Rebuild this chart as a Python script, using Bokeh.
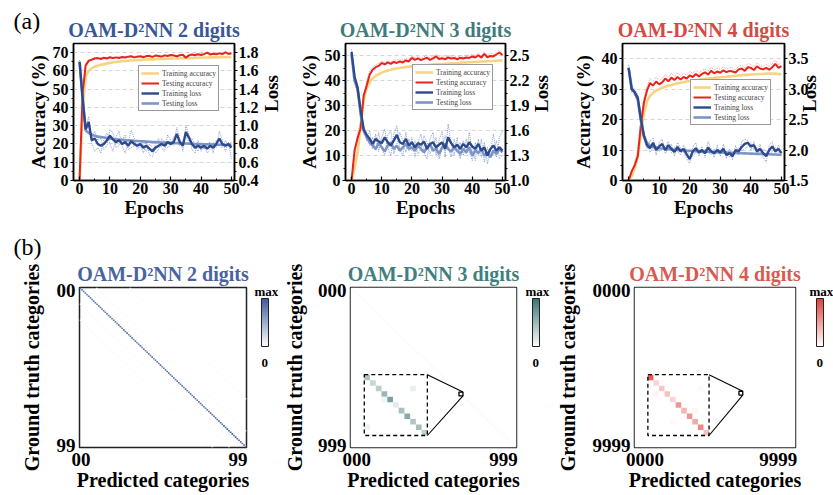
import numpy as np
from bokeh.plotting import figure
from bokeh.layouts import row, column
from bokeh.models import (Range1d, LinearAxis, FixedTicker, PrintfTickFormatter,
                          ColorBar, LinearColorMapper, Legend, LegendItem, ColumnDataSource)
from bokeh.embed import file_html
from bokeh.resources import INLINE

FONT = "Liberation Serif"

# ---------------- data: training curves (epoch 0..50) ----------------
epochs = list(range(51))

train_acc_2 = [0, 38, 57, 60, 61.5, 62.3, 62.8, 63.3, 63.7, 64,
               64.4, 64.7, 64.9, 65.1, 65.3, 65.4, 65.6, 65.7, 65.8, 65.9,
               66, 66.1, 66.2, 66.3, 66.3, 66.4, 66.5, 66.5, 66.6, 66.7,
               66.7, 66.8, 66.8, 66.9, 66.9, 67, 67, 67.1, 67.1, 67.2,
               67.2, 67.3, 67.3, 67.3, 67.4, 67.4, 67.5, 67.5, 67.5, 67.6,
               67.6]
test_acc_2 = [0, 48, 63, 65.5, 66.2, 66.8, 67, 66.5, 67.2, 66.8,
              67.5, 67, 67.4, 67.1, 67.6, 67.3, 67.8, 68, 67.4, 67.8,
              68, 67.5, 68.1, 68.2, 67.7, 68.4, 68.2, 67.8, 68.5, 68.2,
              68.7, 68.4, 68, 68.6, 68.8, 67.2, 68.5, 69, 68.6, 69.1,
              68.7, 69.2, 70, 69, 69.4, 69.1, 69.6, 69.2, 70.1, 69.3,
              69.7]
acc_run_2 = [0, 45, 64, 66.5, 65.5, 67.5, 66.3, 67.2, 66.5, 67.6,
             66.8, 67.8, 66.9, 67.8, 67, 68, 67.4, 68.4, 67, 68.2,
             67.6, 68.3, 67.6, 68.8, 67.2, 68.9, 67.8, 68.5, 68, 68.9,
             68.2, 69, 67.6, 69.1, 68.4, 67.8, 69, 68.6, 69.4, 68.8,
             69.5, 68.8, 70.4, 68.6, 69.9, 68.8, 70.2, 68.9, 70.6, 69,
             70.2]
train_loss_2 = [1.70, 1.30, 0.96, 1.04, 0.84, 0.86, 0.80, 0.78, 0.80, 0.84,
                0.89, 0.85, 0.82, 0.84, 0.80, 0.82, 0.78, 0.83, 0.80, 0.78,
                0.80, 0.76, 0.78, 0.75, 0.72, 0.76, 0.78, 0.80, 0.78, 0.82,
                0.80, 0.82, 0.91, 0.82, 0.78, 0.93, 0.87, 0.80, 0.76, 0.78,
                0.76, 0.78, 0.75, 0.78, 0.76, 0.80, 0.86, 0.80, 0.78, 0.80,
                0.76]
test_loss_2 = [1.70, 1.30, 0.95, 0.92, 0.90, 0.89, 0.88, 0.875, 0.87, 0.865,
               0.86, 0.855, 0.85, 0.848, 0.845, 0.842, 0.84, 0.838, 0.835, 0.833,
               0.83, 0.828, 0.826, 0.824, 0.822, 0.82, 0.818, 0.816, 0.815, 0.814,
               0.812, 0.81, 0.808, 0.807, 0.806, 0.805, 0.804, 0.802, 0.80, 0.799,
               0.798, 0.797, 0.796, 0.795, 0.794, 0.793, 0.792, 0.791, 0.79, 0.789,
               0.788]
loss_run_2a = [1.72, 1.25, 0.98, 1.10, 0.80, 0.72, 0.76, 0.70, 0.85, 0.92,
               0.80, 0.72, 0.88, 0.94, 0.78, 0.70, 0.82, 0.95, 0.86, 0.74,
               0.78, 0.70, 0.82, 0.68, 0.66, 0.80, 0.86, 0.76, 0.72, 0.90,
               0.84, 0.78, 0.98, 0.86, 0.72, 1.00, 0.90, 0.74, 0.70, 0.84,
               0.72, 0.80, 0.70, 0.74, 0.82, 0.76, 0.94, 0.84, 0.72, 0.82,
               0.64]
loss_run_2b = [1.68, 1.35, 0.94, 1.00, 0.88, 0.94, 0.84, 0.86, 0.74, 0.78,
               0.96, 0.92, 0.76, 0.78, 0.84, 0.90, 0.74, 0.76, 0.78, 0.84,
               0.82, 0.80, 0.72, 0.80, 0.76, 0.70, 0.74, 0.86, 0.82, 0.76,
               0.78, 0.88, 0.84, 0.78, 0.84, 0.88, 0.82, 0.86, 0.80, 0.72,
               0.80, 0.74, 0.80, 0.82, 0.70, 0.84, 0.78, 0.76, 0.84, 0.78,
               0.82]

train_acc_3 = [0, 5, 11, 22, 32, 37, 39.5, 41, 42, 42.7,
               43.3, 43.8, 44.2, 44.5, 44.8, 45, 45.2, 45.4, 45.6, 45.7,
               45.9, 46, 46.1, 46.2, 46.3, 46.4, 46.5, 46.6, 46.7, 46.8,
               46.8, 46.9, 47, 47.1, 47.1, 47.2, 47.3, 47.4, 47.4, 47.5,
               47.6, 47.6, 47.7, 47.8, 47.8, 47.9, 48, 48, 48.1, 48.2,
               48.2]
test_acc_3 = [0, 12, 17, 21, 34, 38, 42.5, 44.5, 45.5, 46,
              47.2, 46.6, 47.4, 46.8, 47.6, 47.2, 47.8, 47.4, 48.2, 47.8,
              49.2, 48.4, 49, 48.3, 48.8, 49.3, 48.4, 49, 49.8, 48.8,
              49.1, 48.6, 49.4, 49, 49.2, 48.6, 49.3, 49, 49.4, 49.2,
              49.8, 49.4, 50.3, 49.3, 50.8, 49.4, 50, 49.8, 50.6, 51.4,
              50.4]
acc_run_3 = [0, 10, 19, 24, 32, 40, 44, 45.5, 46.5, 47,
             48, 47.5, 48.2, 47.6, 48.5, 48.2, 48.8, 48.4, 49, 48.6,
             50, 49.3, 50, 49.1, 49.7, 50.2, 49.2, 50, 50.6, 49.6,
             50.1, 49.4, 50.3, 49.8, 50.2, 49.4, 50.2, 49.8, 50.4, 50,
             50.7, 50.2, 51.2, 50.1, 51.6, 50.4, 51, 50.6, 51.5, 52.3,
             51.4]
train_loss_3 = [2.55, 2.25, 2.12, 1.85, 1.62, 1.55, 1.50, 1.44, 1.50, 1.47,
                1.45, 1.52, 1.46, 1.42, 1.48, 1.55, 1.46, 1.44, 1.50, 1.42,
                1.46, 1.40, 1.45, 1.43, 1.47, 1.38, 1.44, 1.46, 1.40, 1.43,
                1.46, 1.38, 1.52, 1.45, 1.40, 1.43, 1.38, 1.44, 1.40, 1.46,
                1.41, 1.38, 1.44, 1.36, 1.40, 1.30, 1.38, 1.42, 1.36, 1.40,
                1.36]
test_loss_3 = [2.52, 2.20, 2.10, 1.80, 1.60, 1.52, 1.46, 1.42, 1.38, 1.45,
               1.40, 1.35, 1.42, 1.46, 1.38, 1.42, 1.36, 1.40, 1.44, 1.38,
               1.40, 1.36, 1.42, 1.38, 1.34, 1.40, 1.44, 1.36, 1.38, 1.32,
               1.40, 1.44, 1.38, 1.35, 1.40, 1.36, 1.32, 1.38, 1.34, 1.40,
               1.30, 1.36, 1.33, 1.38, 1.30, 1.34, 1.28, 1.36, 1.32, 1.38,
               1.34]
loss_run_3a = [2.58, 2.18, 2.05, 1.78, 1.62, 1.48, 1.60, 1.38, 1.56, 1.35,
               1.52, 1.62, 1.40, 1.30, 1.56, 1.66, 1.38, 1.30, 1.58, 1.36,
               1.52, 1.28, 1.46, 1.56, 1.34, 1.26, 1.50, 1.58, 1.30, 1.48,
               1.60, 1.28, 1.68, 1.44, 1.30, 1.52, 1.26, 1.48, 1.32, 1.58,
               1.36, 1.24, 1.50, 1.28, 1.46, 1.20, 1.36, 1.56, 1.28, 1.52,
               1.60]
loss_run_3b = [2.50, 2.24, 2.15, 1.86, 1.58, 1.56, 1.42, 1.52, 1.36, 1.58,
               1.38, 1.30, 1.54, 1.60, 1.32, 1.44, 1.58, 1.48, 1.34, 1.50,
               1.36, 1.48, 1.32, 1.38, 1.54, 1.46, 1.32, 1.40, 1.52, 1.26,
               1.38, 1.54, 1.40, 1.28, 1.50, 1.34, 1.46, 1.30, 1.50, 1.34,
               1.24, 1.46, 1.30, 1.50, 1.22, 1.40, 1.28, 1.32, 1.48, 1.26,
               1.30]

train_acc_4 = [0, 1.5, 4, 8, 15, 22, 26, 27.8, 28.8, 29.5,
               30, 30.4, 30.8, 31.1, 31.4, 31.7, 31.9, 32.1, 32.3, 32.5,
               32.7, 32.8, 33, 33.1, 33.3, 33.4, 33.5, 33.6, 33.7, 33.8,
               33.9, 34, 34.1, 34.2, 34.3, 34.4, 34.5, 34.6, 34.7, 34.7,
               34.8, 34.9, 34.9, 35, 35, 35.1, 35.1, 35.1, 35.1, 35,
               34.9]
test_acc_4 = [0, 3, 5, 8, 18, 25.5, 29.5, 32, 31.2, 32.5,
              31.6, 32.2, 33.5, 32.6, 33.8, 33, 34, 33.2, 34, 33.5,
              34.5, 34, 35, 34.2, 35, 35.5, 34.8, 36, 35.2, 35.8,
              35.4, 36.2, 35.6, 36, 35.8, 35.5, 36.5, 36.8, 36, 37.2,
              37, 36.3, 37.5, 36.8, 36.5, 37, 36.4, 37.2, 38.3, 37,
              37.6]
acc_run_4 = [0, 2, 6, 10, 20, 27, 31, 33.5, 32.5, 34,
             32.8, 33.4, 35, 33.8, 35.2, 34.2, 35.4, 34.4, 35.2, 34.6,
             35.8, 35.2, 36.2, 35.3, 36.3, 36.6, 35.9, 37.2, 36.3, 36.9,
             36.5, 37.4, 36.6, 37.2, 36.9, 36.4, 37.6, 38, 37, 38.4,
             38.1, 37.3, 38.6, 37.8, 37.5, 38.1, 37.4, 38.3, 39.6, 38,
             38.6]
train_loss_4 = [3.35, 3.00, 2.95, 2.86, 2.52, 2.24, 2.08, 2.03, 2.12, 2.00,
                2.06, 2.10, 2.00, 2.08, 2.02, 1.97, 2.05, 1.98, 2.02, 1.93,
                1.85, 1.98, 2.03, 1.96, 2.00, 1.95, 2.04, 1.98, 1.95, 2.00,
                1.96, 2.02, 1.92, 1.95, 1.90, 2.00, 1.98, 2.05, 2.10, 2.12,
                2.06, 2.08, 1.98, 2.02, 1.95, 1.90, 2.00, 2.06, 1.98, 2.02,
                1.95]
test_loss_4 = [3.35, 3.02, 2.94, 2.82, 2.48, 2.22, 2.12, 2.07, 2.05, 2.04,
               2.03, 2.025, 2.02, 2.015, 2.01, 2.005, 2.0, 1.998, 1.995, 1.99,
               1.988, 1.985, 1.982, 1.98, 1.978, 1.975, 1.972, 1.97, 1.968, 1.965,
               1.962, 1.96, 1.958, 1.956, 1.954, 1.952, 1.95, 1.948, 1.946, 1.944,
               1.942, 1.94, 1.938, 1.936, 1.934, 1.932, 1.93, 1.928, 1.926, 1.924,
               1.922]
loss_run_4a = [3.40, 2.95, 2.90, 2.80, 2.45, 2.18, 2.02, 2.15, 2.20, 1.92,
               2.12, 2.18, 1.94, 2.02, 2.10, 1.90, 2.12, 2.04, 1.96, 1.86,
               1.78, 2.05, 2.12, 1.90, 2.06, 1.88, 2.14, 2.02, 1.88, 2.08,
               1.90, 2.10, 1.86, 2.02, 1.84, 2.08, 1.92, 2.14, 2.18, 2.16,
               2.00, 2.14, 1.92, 2.10, 1.88, 1.80, 2.08, 2.14, 1.92, 2.08,
               1.90]
loss_run_4b = [3.30, 3.06, 3.00, 2.90, 2.58, 2.30, 2.12, 1.96, 2.04, 2.08,
               1.98, 2.02, 2.06, 2.14, 1.96, 2.04, 1.98, 1.92, 2.08, 2.00,
               1.92, 1.90, 1.96, 2.02, 1.94, 2.02, 1.96, 1.92, 2.02, 1.94,
               2.02, 1.94, 1.98, 1.88, 1.96, 1.94, 2.04, 1.98, 2.02, 2.06,
               2.12, 2.00, 2.04, 1.94, 2.02, 1.98, 1.92, 1.98, 2.04, 1.96,
               2.00]

# ---------------- data: confusion matrices (relative to max) ----------------
diag_2 = [0.86, 0.80, 0.84, 0.76, 0.82, 0.88, 0.78, 0.84, 0.80, 0.85,
          0.79, 0.83, 0.87, 0.77, 0.81, 0.84, 0.80, 0.86, 0.78, 0.82,
          0.84, 0.78, 0.80, 0.88, 0.83, 0.79, 0.85, 0.81, 0.87, 0.80,
          0.82, 0.86, 0.78, 0.84, 0.80, 0.83, 0.88, 0.77, 0.85, 0.81,
          0.80, 0.84, 0.82, 0.87, 0.79, 0.85, 0.80, 0.83, 0.86, 0.78,
          0.84, 0.81, 0.88, 0.80, 0.83, 0.86, 0.79, 0.84, 0.82, 0.89,
          0.80, 0.85, 0.83, 0.87, 0.80, 0.84, 0.86, 0.81, 0.88, 0.82,
          0.85, 0.83, 0.89, 0.80, 0.87, 0.84, 0.82, 0.90, 0.86, 0.84,
          0.90, 0.87, 0.92, 0.88, 0.94, 0.91, 0.97, 0.92, 1.00, 0.95,
          0.97, 1.00, 0.95, 0.98, 0.93, 0.96, 0.90, 0.86, 0.82, 0.80]
stripe_offsets_2 = [-20, -10, 10, 30]      # faint confusion stripes
stripe_level_2 = 0.03

inset_start_3 = 660                         # zoomed classes 660..670
inset_diag_3 = [0.42, 0.30, 0.36, 0.52, 0.68, 0.15, 0.45, 0.62, 0.40, 0.46, 0.35]
inset_off_3 = [(2, 8, 0.12), (4, 3, 0.08), (9, 0, 0.10)]

inset_start_4 = 6600                        # zoomed classes 6600..6610
inset_diag_4 = [0.85, 0.22, 0.30, 0.32, 0.22, 0.55, 0.38, 0.55, 0.45, 0.62, 0.32]
inset_off_4 = [(3, 1, 0.06), (6, 8, 0.05), (2, 9, 0.04), (8, 4, 0.04)]

# ---------------- style ----------------
YELLOW = "#fad381"
RED = "#e8231e"
DARK = "#2d4a8d"
LIGHT = "#7d95c6"
DOT_B = "#5a78bd"
DOT_R = "#f07a72"

TOP_H = 226
BOT_H = 269


def ramp(hex_color, n=256):
    r, g, b = (int(hex_color[i:i + 2], 16) for i in (1, 3, 5))
    out = []
    for t in np.linspace(0, 1, n):
        out.append("#%02x%02x%02x" % (round(255 + (r - 255) * t),
                                      round(255 + (g - 255) * t),
                                      round(255 + (b - 255) * t)))
    return out


def mids(ticks):
    return [(a + b) / 2 for a, b in zip(ticks[:-1], ticks[1:])]


def style_axis(ax, tick_size="16px", lab_size="19px"):
    ax.axis_label_text_font = FONT
    ax.axis_label_text_font_style = "bold"
    ax.axis_label_text_font_size = lab_size
    ax.axis_label_text_color = "black"
    ax.major_label_text_font = FONT
    ax.major_label_text_font_style = "bold"
    ax.major_label_text_font_size = tick_size
    ax.major_label_text_color = "black"
    ax.axis_line_color = "black"
    ax.axis_line_width = 1.5
    ax.major_tick_line_color = "black"
    ax.major_tick_line_width = 1.2
    ax.minor_tick_line_color = "black"
    ax.minor_tick_line_width = 1
    ax.major_label_standoff = 2


def text_note(p, text, x, y, size, bold=True):
    """A free-standing text placed in screen pixels relative to the frame
    (drawn as the title of an invisible colour bar so it is not clipped)."""
    cb = ColorBar(color_mapper=LinearColorMapper(palette=["#ffffff"], low=0, high=1),
                  orientation="horizontal",
                  location=(x, y), width=1, height=1, padding=0, margin=0, title=text,
                  title_standoff=0, title_text_font=FONT, title_text_font_size=size,
                  title_text_font_style="bold" if bold else "normal", title_text_color="black",
                  scale_alpha=0, bar_line_color=None, border_line_color=None,
                  background_fill_alpha=0, ticker=FixedTicker(ticks=[]),
                  major_label_text_font_size="0px", major_tick_line_color=None,
                  minor_tick_line_color=None)
    p.add_layout(cb)


top_cfg = [
    dict(w=295, bl=73, br=58, title="OAM-D²NN 2 digits", tcolor="#3a5795",
         acc=(0, 75), loss=(0.4, 1.9),
         acc_ticks=[0, 10, 20, 30, 40, 50, 60, 70],
         loss_ticks=[0.4, 0.6, 0.8, 1.0, 1.2, 1.4, 1.6, 1.8],
         data=(train_acc_2, test_acc_2, acc_run_2, train_loss_2, test_loss_2, loss_run_2a, loss_run_2b),
         leg=(65, 69), acc_s=1, loss_s=10),
    dict(w=270, bl=48, br=55, title="OAM-D²NN 3 digits", tcolor="#3e7b7a",
         acc=(0, 55), loss=(1.0, 2.65),
         acc_ticks=[0, 10, 20, 30, 40, 50],
         loss_ticks=[1.0, 1.3, 1.6, 1.9, 2.2, 2.5],
         data=(train_acc_3, test_acc_3, acc_run_3, train_loss_3, test_loss_3, loss_run_3a, loss_run_3b),
         leg=(67, 70), acc_s=2, loss_s=9),
    dict(w=268, bl=57, br=43, title="OAM-D²NN 4 digits", tcolor="#d24b43",
         acc=(0, 45), loss=(1.5, 3.75),
         acc_ticks=[0, 10, 20, 30, 40],
         loss_ticks=[1.5, 2.0, 2.5, 3.0, 3.5],
         data=(train_acc_4, test_acc_4, acc_run_4, train_loss_4, test_loss_4, loss_run_4a, loss_run_4b),
         leg=(68, 55), acc_s=5, loss_s=-2),
]


def make_top(cfg, first=False):
    tr_acc, te_acc, acc_run, tr_loss, te_loss, run_a, run_b = cfg["data"]
    p = figure(width=cfg["w"], height=TOP_H, output_backend="svg", toolbar_location=None,
               x_range=Range1d(-2, 51), y_range=Range1d(*cfg["acc"]),
               min_border=0, min_border_left=cfg["bl"], min_border_right=cfg["br"],
               min_border_top=43, min_border_bottom=TOP_H - 180,
               background_fill_color="white", border_fill_color="white")
    p.outline_line_color = "black"
    p.outline_line_width = 1.5
    p.extra_y_ranges = {"loss": Range1d(*cfg["loss"])}

    p.title.text = cfg["title"]
    p.title.text_font = FONT
    p.title.text_font_style = "bold"
    p.title.text_font_size = "20px"
    p.title.text_color = cfg["tcolor"]
    p.title.align = "center"
    p.title.standoff = 6

    xt = [0, 10, 20, 30, 40, 50]
    p.xaxis.ticker = FixedTicker(ticks=xt, minor_ticks=mids(xt))
    p.xaxis.axis_label = "Epochs"
    style_axis(p.xaxis[0])
    p.xaxis.major_tick_in = 4
    p.xaxis.major_tick_out = 0
    p.xaxis.minor_tick_in = 2
    p.xaxis.minor_tick_out = 0
    p.xaxis.axis_label_standoff = 0

    la = p.left[0]
    la.ticker = FixedTicker(ticks=cfg["acc_ticks"], minor_ticks=mids(cfg["acc_ticks"]))
    la.axis_label = "Accuracy (%)"
    style_axis(la)
    la.major_tick_out = 3
    la.major_tick_in = 0
    la.minor_tick_out = 2
    la.minor_tick_in = 0
    la.axis_label_standoff = cfg["acc_s"]

    p.xgrid.visible = False
    p.ygrid.grid_line_color = "#cccccc"
    p.ygrid.grid_line_dash = "4 3"
    p.ygrid.grid_line_width = 0.8

    ra = LinearAxis(y_range_name="loss", axis_label="Loss",
                    ticker=FixedTicker(ticks=cfg["loss_ticks"], minor_ticks=mids(cfg["loss_ticks"])),
                    formatter=PrintfTickFormatter(format="%.1f"))
    style_axis(ra)
    ra.major_tick_out = 3
    ra.major_tick_in = 0
    ra.minor_tick_out = 2
    ra.minor_tick_in = 0
    ra.major_label_standoff = 1
    ra.axis_label_standoff = cfg["loss_s"]
    if "axis_label_orientation" in ra.properties():
        ra.axis_label_orientation = float(np.pi / 2)
    p.add_layout(ra, "right")

    p.line(epochs, run_a, y_range_name="loss", line_color=DOT_B, line_width=0.7, line_dash="1 1")
    p.line(epochs, run_b, y_range_name="loss", line_color=DOT_B, line_width=0.7, line_dash="1 1")
    p.line(epochs, acc_run, line_color=DOT_R, line_width=0.7, line_dash="1 1")
    r1 = p.line(epochs, tr_acc, line_color=YELLOW, line_width=2.6)
    r2 = p.line(epochs, te_acc, line_color=RED, line_width=2)
    r4 = p.line(epochs, te_loss, y_range_name="loss", line_color=LIGHT, line_width=2.6)
    r3 = p.line(epochs, tr_loss, y_range_name="loss", line_color=DARK, line_width=2.4)

    legend = Legend(items=[LegendItem(label="Training accuracy", renderers=[r1]),
                           LegendItem(label="Testing accuracy", renderers=[r2]),
                           LegendItem(label="Training loss", renderers=[r3]),
                           LegendItem(label="Testing loss", renderers=[r4])],
                    location=cfg["leg"], label_text_font=FONT, label_text_font_size="7.5px",
                    glyph_width=18, glyph_height=10, label_height=10, label_standoff=3,
                    spacing=0, padding=2, margin=0, border_line_color="#333333",
                    border_line_width=0.8, background_fill_color="white", background_fill_alpha=1)
    p.add_layout(legend)

    if first:
        text_note(p, "(a)", -60, 146, "24px", bold=False)
    return p


INSET_X0, INSET_Y0, INSET_SIZE = 0.083, 0.545, 0.38
MARK_HALF = 0.012

mat_2 = np.zeros((100, 100))
for k in range(100):
    mat_2[k, k] = diag_2[k]
for off in stripe_offsets_2:
    for k in range(100):
        if 0 <= k + off < 100:
            mat_2[k, k + off] = stripe_level_2


def binned_diag(n_classes, level, bins=100):
    per = n_classes // bins
    return np.eye(bins) * level / per


bot_cfg = [
    dict(w=280, bl=79, br=34, N=100, digits=2, title="OAM-D²NN 2 digits", tcolor="#4863a0",
         hcolor="#3d5c9c", ylab_s=11, cells=mat_2),
    dict(w=273, bl=67, br=37, N=1000, digits=3, title="OAM-D²NN 3 digits", tcolor="#3f7f7e",
         hcolor="#3b7474", ylab_s=9, mat=binned_diag(1000, float(np.mean(inset_diag_3))),
         start=inset_start_3, idiag=inset_diag_3, ioff=inset_off_3),
    dict(w=280, bl=75, br=38, N=10000, digits=4, title="OAM-D²NN 4 digits", tcolor="#d85a50",
         hcolor="#e0403a", ylab_s=11, mat=binned_diag(10000, float(np.mean(inset_diag_4))),
         start=inset_start_4, idiag=inset_diag_4, ioff=inset_off_4),
]


def make_heat(cfg, first=False):
    N = cfg["N"]
    pal = ramp(cfg["hcolor"])
    mapper = LinearColorMapper(palette=pal, low=0, high=1)
    p = figure(width=cfg["w"], height=BOT_H, output_backend="svg", toolbar_location=None,
               x_range=Range1d(0, N), y_range=Range1d(N, 0),
               min_border=0, min_border_left=cfg["bl"], min_border_right=cfg["br"],
               min_border_top=61, min_border_bottom=48,
               background_fill_color="white", border_fill_color="white")
    p.grid.visible = False
    p.outline_line_color = "#222222"
    p.outline_line_width = 1.5

    p.title.text = cfg["title"]
    p.title.text_font = FONT
    p.title.text_font_style = "bold"
    p.title.text_font_size = "20px"
    p.title.text_color = cfg["tcolor"]
    p.title.align = "center"
    p.title.standoff = 5

    zero, nine = "0" * cfg["digits"], "9" * cfg["digits"]
    frame_w = cfg["w"] - cfg["bl"] - cfg["br"]
    half_w = cfg["digits"] * 0.5 * 19 / 2          # half width of a tick label, px
    xl = round(max((half_w - 8) / frame_w, 0.008) * N, 2)
    xr = round(N - (half_w - 1) / frame_w * N, 2)
    yt = round(0.02 * N, 2)
    yb = round(0.988 * N, 2)

    xa = p.xaxis[0]
    xa.ticker = FixedTicker(ticks=[xl, xr])
    xa.major_label_overrides = {xl: zero, xr: nine}
    xa.axis_label = "Predicted categories"
    ya = p.yaxis[0]
    ya.ticker = FixedTicker(ticks=[yt, yb])
    ya.major_label_overrides = {yt: zero, yb: nine}
    ya.axis_label = "Ground truth categories"
    for ax, ls, ts in ((xa, 0, 5), (ya, cfg["ylab_s"], 4)):
        style_axis(ax, tick_size="19px", lab_size="20px")
        ax.axis_line_color = None
        ax.major_tick_line_color = None
        ax.minor_tick_line_color = None
        ax.major_tick_out = 0
        ax.major_tick_in = 0
        ax.major_label_standoff = ts
        ax.axis_label_standoff = ls

    if "cells" in cfg:
        m = cfg["cells"]
        ii, jj = np.nonzero(m)
        src = ColumnDataSource(dict(left=jj.astype(float), right=jj + 1.0,
                                    top=ii.astype(float), bottom=ii + 1.0, v=m[ii, jj]))
        p.quad(source=src, left="left", right="right", top="top", bottom="bottom",
               fill_color={"field": "v", "transform": mapper}, line_color=None)
    else:
        p.image(image=[cfg["mat"]], x=0, y=0, dw=N, dh=N, color_mapper=mapper)

    if "idiag" in cfg:
        n = len(cfg["idiag"])
        x0, y0, s = INSET_X0 * N, INSET_Y0 * N, INSET_SIZE * N
        c = s / n
        rr = list(range(n)) + [e[0] for e in cfg["ioff"]]
        cc = list(range(n)) + [e[1] for e in cfg["ioff"]]
        vv = list(cfg["idiag"]) + [e[2] for e in cfg["ioff"]]
        src = ColumnDataSource(dict(left=[x0 + j * c for j in cc], right=[x0 + (j + 1) * c for j in cc],
                                    top=[y0 + i * c for i in rr], bottom=[y0 + (i + 1) * c for i in rr],
                                    v=vv))
        p.quad(left=x0, right=x0 + s, top=y0, bottom=y0 + s, fill_color="white", line_color=None)
        p.quad(source=src, left="left", right="right", top="top", bottom="bottom",
               fill_color={"field": "v", "transform": mapper}, line_color=None)
        p.quad(left=x0, right=x0 + s, top=y0, bottom=y0 + s, fill_color=None,
               line_color="black", line_dash="4 3", line_width=1.3)
        mc = cfg["start"] + n / 2
        h = MARK_HALF * N
        p.quad(left=mc - h, right=mc + h, top=mc - h, bottom=mc + h, fill_color=None,
               line_color="black", line_width=1.3)
        p.segment(x0=[x0 + s, x0 + s], y0=[y0, y0 + s], x1=[mc + h, mc + h], y1=[mc - h, mc + h],
                  line_color="black", line_width=1.1)

    cb = ColorBar(color_mapper=mapper, location=(182, 101), width=7, height=48, padding=0, margin=0,
                  ticker=FixedTicker(ticks=[]), major_label_text_font_size="0px",
                  major_tick_line_color=None, bar_line_color="#222222", bar_line_width=1,
                  border_line_color=None, background_fill_alpha=0, label_standoff=0)
    p.add_layout(cb)
    text_note(p, "max", 175, 148, "13px")
    text_note(p, "0", 182, 80, "13px")

    if first:
        text_note(p, "(b)", -66, 187, "24px", bold=False)
    return p


tops = [make_top(c, first=(i == 0)) for i, c in enumerate(top_cfg)]
bots = [make_heat(c, first=(i == 0)) for i, c in enumerate(bot_cfg)]
layout = column(row(*tops), row(*bots))

open("out.html", "w").write(file_html(layout, INLINE, title="OAM-D2NN"))
